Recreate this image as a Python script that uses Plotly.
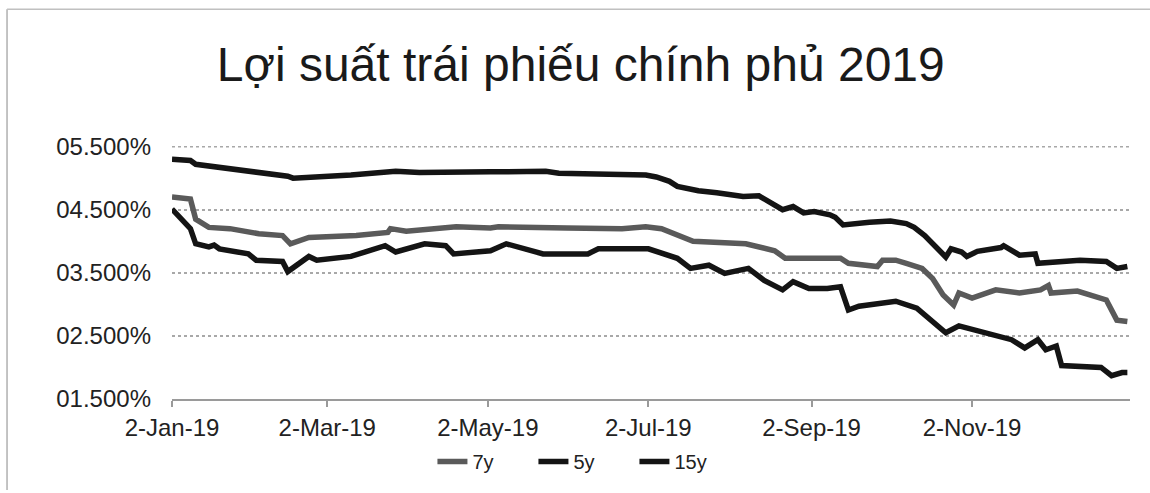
import plotly.graph_objects as go

title_text = "Lợi suất trái phiếu chính phủ 2019"

dates_7y = ["2019-01-02", "2019-01-09", "2019-01-11", "2019-01-16", "2019-01-24", "2019-02-04",
            "2019-02-13", "2019-02-16", "2019-02-23", "2019-03-13", "2019-03-25", "2019-03-26",
            "2019-04-01", "2019-04-20", "2019-05-03", "2019-05-06", "2019-06-01", "2019-06-22",
            "2019-07-01", "2019-07-07", "2019-07-19", "2019-08-08", "2019-08-19", "2019-08-23",
            "2019-09-04", "2019-09-13", "2019-09-16", "2019-09-27", "2019-09-29", "2019-10-04",
            "2019-10-08", "2019-10-14", "2019-10-18", "2019-10-22", "2019-10-26", "2019-10-28",
            "2019-11-02", "2019-11-11", "2019-11-20", "2019-11-28", "2019-12-01", "2019-12-02",
            "2019-12-12", "2019-12-23", "2019-12-27", "2019-12-31"]
values_7y = [4.70, 4.67, 4.35, 4.22, 4.20, 4.12,
             4.09, 3.96, 4.06, 4.09, 4.14, 4.20,
             4.16, 4.23, 4.21, 4.23, 4.21, 4.20,
             4.23, 4.20, 4.00, 3.96, 3.85, 3.73,
             3.73, 3.73, 3.65, 3.60, 3.70, 3.70,
             3.65, 3.57, 3.41, 3.15, 2.99, 3.18,
             3.10, 3.23, 3.18, 3.23, 3.30, 3.18,
             3.21, 3.07, 2.75, 2.73]

dates_5y = ["2019-01-02", "2019-01-06", "2019-01-09", "2019-01-11", "2019-01-16", "2019-01-18",
            "2019-01-20", "2019-01-31", "2019-02-03", "2019-02-13", "2019-02-15", "2019-02-23",
            "2019-02-26", "2019-03-11", "2019-03-24", "2019-03-28", "2019-04-08", "2019-04-16",
            "2019-04-19", "2019-05-03", "2019-05-09", "2019-05-23", "2019-06-09", "2019-06-13",
            "2019-07-02", "2019-07-13", "2019-07-18", "2019-07-25", "2019-07-31", "2019-08-09",
            "2019-08-15", "2019-08-22", "2019-08-26", "2019-09-01", "2019-09-08", "2019-09-13",
            "2019-09-16", "2019-09-20", "2019-10-04", "2019-10-12", "2019-10-17", "2019-10-23",
            "2019-10-28", "2019-11-05", "2019-11-17", "2019-11-22", "2019-11-27", "2019-11-30",
            "2019-12-04", "2019-12-06", "2019-12-21", "2019-12-25", "2019-12-29", "2019-12-31"]
values_5y = [4.51, 4.35, 4.20, 3.96, 3.91, 3.94,
             3.88, 3.80, 3.70, 3.68, 3.52, 3.76,
             3.70, 3.76, 3.93, 3.83, 3.96, 3.93,
             3.80, 3.85, 3.96, 3.80, 3.80, 3.88,
             3.88, 3.73, 3.57, 3.62, 3.49, 3.57,
             3.38, 3.23, 3.36, 3.25, 3.25, 3.28,
             2.91, 2.97, 3.05, 2.94, 2.75, 2.55,
             2.66, 2.58, 2.44, 2.31, 2.44, 2.28,
             2.34, 2.03, 2.00, 1.87, 1.92, 1.92]

dates_15y = ["2019-01-02", "2019-01-09", "2019-01-11", "2019-01-18", "2019-01-29", "2019-02-02",
             "2019-02-10", "2019-02-15", "2019-02-17", "2019-03-03", "2019-03-11", "2019-03-28",
             "2019-04-06", "2019-05-03", "2019-05-24", "2019-05-29", "2019-06-20", "2019-07-01",
             "2019-07-05", "2019-07-10", "2019-07-13", "2019-07-21", "2019-07-28", "2019-08-03",
             "2019-08-07", "2019-08-13", "2019-08-18", "2019-08-22", "2019-08-26", "2019-08-30",
             "2019-09-03", "2019-09-09", "2019-09-11", "2019-09-14", "2019-09-24", "2019-10-02",
             "2019-10-08", "2019-10-11", "2019-10-15", "2019-10-19", "2019-10-23", "2019-10-25",
             "2019-10-29", "2019-10-31", "2019-11-04", "2019-11-13", "2019-11-14", "2019-11-20",
             "2019-11-26", "2019-11-27", "2019-12-13", "2019-12-23", "2019-12-27", "2019-12-31"]
values_15y = [5.30, 5.28, 5.22, 5.18, 5.12, 5.11,
              5.07, 5.03, 5.00, 5.03, 5.05, 5.11,
              5.09, 5.10, 5.11, 5.08, 5.06, 5.05,
              5.02, 4.95, 4.87, 4.80, 4.77, 4.74,
              4.71, 4.72, 4.59, 4.50, 4.55, 4.45,
              4.47, 4.42, 4.38, 4.26, 4.30, 4.32,
              4.28, 4.22, 4.09, 3.93, 3.75, 3.88,
              3.83, 3.76, 3.84, 3.90, 3.93, 3.78,
              3.80, 3.65, 3.70, 3.68, 3.57, 3.60]

y_tick_vals = [1.5, 2.5, 3.5, 4.5, 5.5]
y_tick_text = ["01.500%", "02.500%", "03.500%", "04.500%", "05.500%"]
x_tick_vals = ["2019-01-02", "2019-03-02", "2019-05-02", "2019-07-02", "2019-09-02", "2019-11-02"]
x_tick_text = ["2-Jan-19", "2-Mar-19", "2-May-19", "2-Jul-19", "2-Sep-19", "2-Nov-19"]

FONT = "Liberation Sans, Arial, sans-serif"
GRID = "#a8a8a8"

fig = go.Figure()
fig.add_trace(go.Scatter(x=dates_7y, y=values_7y, name="7y", mode="lines",
                         line=dict(color="#5a5a5a", width=5.5)))
fig.add_trace(go.Scatter(x=dates_5y, y=values_5y, name="5y", mode="lines",
                         line=dict(color="#141414", width=5.5)))
fig.add_trace(go.Scatter(x=dates_15y, y=values_15y, name="15y", mode="lines",
                         line=dict(color="#141414", width=5.5)))

fig.update_layout(
    width=1150, height=493,
    margin=dict(l=172, r=20, t=146, b=91),
    paper_bgcolor="white", plot_bgcolor="white",
    font=dict(family=FONT, color="#222222", size=24),
    title=dict(text=title_text, x=0.505, xanchor="center", y=0.87, yanchor="middle",
               font=dict(size=48, family=FONT, color="#1a1a1a")),
    showlegend=True,
    legend=dict(orientation="h", x=0.43, xanchor="center", y=-0.17, yanchor="top",
                font=dict(size=20, family=FONT, color="#222222"),
                bgcolor="rgba(0,0,0,0)", entrywidth=56, entrywidthmode="pixels",
                tracegroupgap=0),
    xaxis=dict(type="date", range=["2019-01-02", "2020-01-01"],
               tickvals=x_tick_vals, ticktext=x_tick_text,
               showgrid=False, showline=True, linecolor="#9a9a9a", linewidth=1.5,
               ticks="outside", ticklen=6, tickcolor="#9a9a9a", tickwidth=1.5,
               tickfont=dict(size=24, family=FONT, color="#222222"), zeroline=False),
    yaxis=dict(range=[1.5, 5.51], tickvals=y_tick_vals, ticktext=y_tick_text,
               showgrid=True, gridcolor=GRID, gridwidth=1.5, griddash="dot",
               showline=False, zeroline=False, ticks="",
               ticklabelstandoff=20,
               tickfont=dict(size=24, family=FONT, color="#222222")),
    shapes=[
        dict(type="line", xref="paper", yref="y", x0=0, x1=1, y0=y_tick_vals[-1], y1=y_tick_vals[-1],
             layer="below", line=dict(color=GRID, width=1.5, dash="dot")),
        dict(type="line", xref="paper", yref="paper", x0=-0.1722, x1=-0.1722, y0=1.541, y1=-0.36,
             line=dict(color="#b0b0b0", width=1.5)),
        dict(type="line", xref="paper", yref="paper", x0=-0.1722, x1=1.03, y0=1.541, y1=1.541,
             line=dict(color="#c0c0c0", width=1.5)),
    ],
)

fig.write_html("out.html", config={"displayModeBar": False},
               post_script="document.body.style.margin='0';")
